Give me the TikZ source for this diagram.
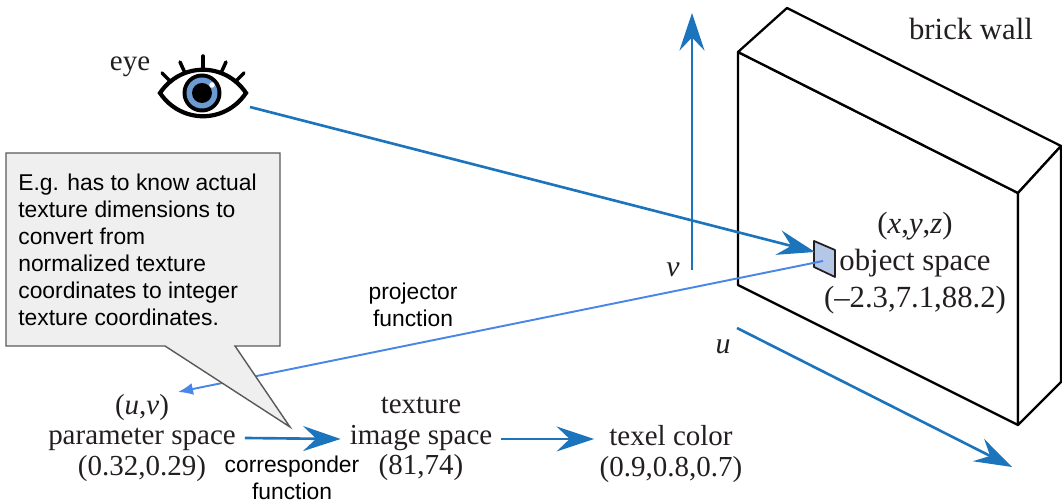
\documentclass[tikz,border=0pt]{standalone}
\usepackage{fontspec}
\setmainfont{Liberation Serif}
\setsansfont{Liberation Sans}
\usetikzlibrary{arrows.meta,calc}
\definecolor{cray}{HTML}{1C75BC}
\definecolor{cproj}{HTML}{4A86E8}
\definecolor{ciris}{HTML}{6B9BD2}
\definecolor{cpatch}{HTML}{B4C7E7}
\definecolor{cnote}{HTML}{EFEFEF}
\definecolor{cnoteborder}{HTML}{595959}
\definecolor{ctext}{HTML}{231F20}

\begin{document}
\begin{tikzpicture}[
    x=0.02cm, y=-0.02cm,
    lbl/.style={font=\fontsize{16.5}{17.4}\selectfont, text=ctext, align=center, inner sep=0pt},
    objlbl/.style={font=\fontsize{17.5}{21}\selectfont, text=ctext, align=center, inner sep=0pt},
    axlbl/.style={font=\fontsize{17}{17}\selectfont\itshape, text=ctext, inner sep=0pt},
    fnlbl/.style={font=\sffamily\fontsize{13}{15}\selectfont, align=center, inner sep=0pt},
    notetext/.style={font=\sffamily\fontsize{13}{15.3}\selectfont, align=left, inner sep=0pt},
    notebox/.style={draw=cnoteborder, fill=cnote, line width=0.8pt, line join=miter},
    wall/.style={draw=black, fill=white, line width=1.3pt, line join=round},
    arr/.style={-{Stealth[length=7.5mm,width=5mm,inset=2.6mm]}, line width=1.5pt, draw=cray},
    parr/.style={-{Latex[length=3mm,width=2.4mm]}, line width=1.1pt, draw=cproj},
    lash/.style={line width=2pt, line cap=round}
]
\useasboundingbox (0,0) rectangle (1062,502);

% brick wall block
\coordinate (ftl) at (738,52);
\coordinate (ftr) at (1018,193);
\coordinate (fbr) at (1018,425);
\coordinate (fbl) at (738,285);
\coordinate (btl) at (787,8);
\coordinate (btr) at (1061,146);
\coordinate (bbr) at (1061,382);
\draw[wall] (ftl) -- (ftr) -- (fbr) -- (fbl) -- cycle;
\draw[wall] (ftl) -- (btl) -- (btr) -- (ftr) -- cycle;
\draw[wall] (ftr) -- (btr) -- (bbr) -- (fbr) -- cycle;
\node[objlbl] (brick) at (971,29) {brick wall};

% eye
\coordinate (eye) at (203,93);
\begin{scope}[shift={(eye)}]
  \draw[line width=2.4pt, fill=white] (-43,0) .. controls (-22,-31) and (22,-31) .. (43,0)
        .. controls (22,31) and (-22,31) .. (-43,0) -- cycle;
  \fill[black] (-1,0) circle (0.39cm);
  \fill[ciris] (-1,0) circle (0.31cm);
  \fill[black] (-1,0) circle (0.2cm);
  \fill[white] (9,-8) circle (0.055cm);
\end{scope}
\foreach \a/\b/\c/\d in {171/82/162/73, 185/73/180/62, 203/68/203/56, 221/73/226/62, 235/82/244/73}
  \draw[lash] (\a,\b) -- (\c,\d);
\node[lbl] (eyelbl) at (130,67) {eye};

% surface point
\draw[draw=ctext, fill=cpatch, line width=1pt, line join=round]
  (814,241) -- (835,250) -- (835,277) -- (814,267) -- cycle;
\node[objlbl] (obj) at (915,263) {(\textit{x},\textit{y},\textit{z})\\object space\\(--2.3,7.1,88.2)};

% axes
\coordinate (vtail) at (692,270);
\coordinate (vhead) at (692,13);
\coordinate (utail) at (737,328);
\coordinate (uhead) at (1012,467);
\draw[arr] (vtail) -- (vhead);
\draw[arr] (utail) -- (uhead);
\node[axlbl] (vlbl) at (673,270) {v};
\node[axlbl] (ulbl) at (723,347) {u};

% rays
\coordinate (eyeout) at (250,107);
\coordinate (hit) at (815,252);
\coordinate (src) at (823,261);
\coordinate (uv) at (178,392);
\draw[arr] (eyeout) -- (hit);
\draw[parr] (src) -- (uv);
\node[fnlbl] (proj) at (413,305) {projector\\function};

% note
\coordinate (tip) at (290,427);
\draw[notebox] (6,153) -- (280,153) -- (280,346) -- (235,346) -- (tip) -- (165,346) -- (6,346) -- cycle;
\node[notetext, anchor=north west] (note) at (18,174) {E.g. has to know actual\\texture dimensions to\\convert from\\normalized texture\\coordinates to integer\\texture coordinates.};

% pipeline
\node[lbl] (param) at (142,438) {(\textit{u},\textit{v})\\parameter space\\(0.32,0.29)};
\node[lbl] (texture) at (421,439) {texture\\image space\\(81,74)};
\node[lbl] (texel) at (671,454) {texel color\\(0.9,0.8,0.7)};
\draw[arr] ([xshift=5pt]param.east) -- ([xshift=-5pt]texture.west);
\draw[arr] ([xshift=5pt]texture.east) -- ($(texture.east -| texel.west)+(-3pt,0)$);
\node[fnlbl] (corr) at (292,478) {corresponder\\function};
\end{tikzpicture}
\end{document}
